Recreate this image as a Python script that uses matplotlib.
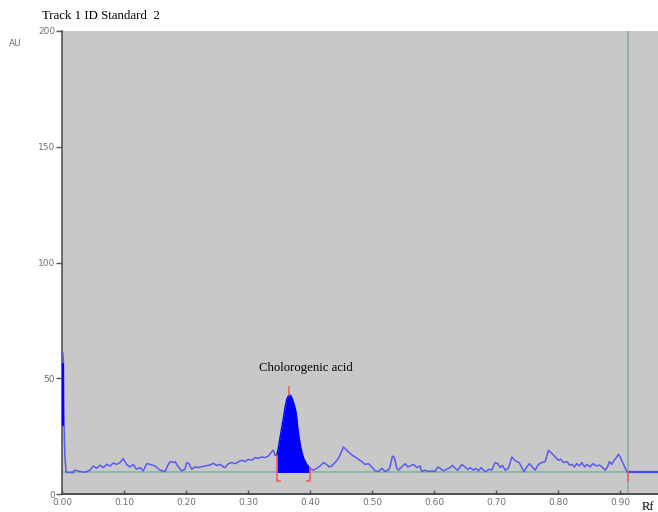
import matplotlib
matplotlib.use("Agg")
import matplotlib.pyplot as plt
import numpy as np

# ---------------- data ----------------
title_text = "Track 1 ID Standard  2"
peak_label = "Cholorogenic acid"
x_ticks = [0.0, 0.1, 0.2, 0.3, 0.4, 0.5, 0.6, 0.7, 0.8, 0.9]
x_tick_labels = ["0.00", "0.10", "0.20", "0.30", "0.40", "0.50", "0.60", "0.70", "0.80", "0.90"]
y_ticks = [0, 50, 100, 150, 200]
baseline_au = 9.3
end_rf = 0.912

# initial spike at the application position
spike_rf = [0.0012, 0.0022, 0.0030, 0.0034, 0.0040, 0.0048, 0.0068, 0.018]
spike_au = [61.0, 58.0, 36.0, 30.0, 22.0, 15.5, 9.3, 9.3]
spike_fill_rf = [0.0004, 0.0014]
spike_fill_low = [30.0, 30.0]
spike_fill_high = [56.0, 56.0]

# noisy track before the peak
pre_rf = [0.0183, 0.0210, 0.0290, 0.0370, 0.0452, 0.0505, 0.0559, 0.0613, 0.0667, 0.0720,
          0.0774, 0.0828, 0.0880, 0.0935, 0.0989, 0.1040, 0.1097, 0.1150, 0.1200, 0.1260,
          0.1310, 0.1366, 0.1420, 0.1500, 0.1580, 0.1661, 0.1715, 0.1742, 0.1796, 0.1823,
          0.1876, 0.1930, 0.1984, 0.2011, 0.2048, 0.2091, 0.2145, 0.2199, 0.2253, 0.2306,
          0.2387, 0.2441, 0.2495, 0.2548, 0.2602, 0.2629, 0.2683, 0.2737, 0.2790, 0.2844,
          0.2898, 0.2952, 0.3005, 0.3059, 0.3113, 0.3167, 0.3220, 0.3274, 0.3328, 0.3382,
          0.3409, 0.3435]
pre_au = [9.8, 10.3, 9.7, 9.4, 10.3, 12.1, 11.1, 12.4, 11.4, 12.8,
          12.1, 13.4, 12.8, 13.6, 15.3, 12.8, 11.7, 12.8, 10.7, 11.4,
          10.0, 13.1, 12.8, 12.1, 10.3, 9.7, 12.8, 14.0, 13.6, 14.0,
          11.7, 10.0, 10.7, 13.6, 13.1, 10.7, 11.7, 11.4, 11.8, 12.1,
          12.5, 13.3, 12.3, 12.8, 11.7, 11.4, 13.1, 13.6, 13.1, 13.9,
          14.6, 14.0, 15.0, 14.6, 15.7, 15.4, 16.0, 15.7, 16.4, 18.3,
          18.9, 16.9]

# chlorogenic acid peak (filled)
peak_rf = [0.3462, 0.3489, 0.3516, 0.3543, 0.3570, 0.3597, 0.3624, 0.3661, 0.3688, 0.3715,
           0.3742, 0.3769, 0.3785, 0.3801, 0.3823, 0.3849, 0.3892, 0.3946, 0.4000]
peak_au = [16.5, 20.1, 24.4, 28.7, 33.0, 37.4, 41.0, 42.9, 42.5, 41.0,
           38.8, 35.9, 33.0, 28.7, 24.4, 20.1, 15.7, 12.8, 11.1]
peak_top_rf = 0.3661
peak_start_rf = 0.3462
peak_end_rf = 0.4000

# noisy track after the peak
post_rf = [0.4054, 0.4108, 0.4161, 0.4215, 0.4269, 0.4306, 0.4349, 0.4403, 0.4457, 0.4511,
           0.4538, 0.4591, 0.4645, 0.4699, 0.4726, 0.4780, 0.4833, 0.4887, 0.4941, 0.4995,
           0.5048, 0.5102, 0.5156, 0.5210, 0.5263, 0.5290, 0.5328, 0.5360, 0.5398, 0.5425,
           0.5478, 0.5532, 0.5575, 0.5613, 0.5667, 0.5720, 0.5774, 0.5801, 0.5855, 0.5909,
           0.5962, 0.6016, 0.6059, 0.6097, 0.6151, 0.6204, 0.6258, 0.6296, 0.6339, 0.6382,
           0.6446, 0.6500, 0.6543, 0.6581, 0.6634, 0.6672, 0.6715, 0.6758, 0.6796, 0.6833,
           0.6887, 0.6930, 0.6984, 0.7027, 0.7065, 0.7102, 0.7145, 0.7199, 0.7253, 0.7285,
           0.7333, 0.7371, 0.7414, 0.7452, 0.7495, 0.7538, 0.7591, 0.7629, 0.7683, 0.7737,
           0.7790, 0.7844, 0.7898, 0.7952, 0.8005, 0.8043, 0.8086, 0.8140, 0.8183, 0.8220,
           0.8263, 0.8301, 0.8344, 0.8382, 0.8425, 0.8462, 0.8516, 0.8559, 0.8613, 0.8667,
           0.8720, 0.8758, 0.8796, 0.8828, 0.8866, 0.8903, 0.8946, 0.8973, 0.9011, 0.9054,
           0.9097, 0.9118]
post_au = [10.3, 11.1, 12.1, 13.6, 12.8, 11.7, 12.1, 13.6, 15.4, 18.6,
           20.3, 18.9, 17.5, 16.4, 16.0, 15.0, 14.0, 12.8, 13.1, 11.7,
           10.0, 9.7, 11.1, 9.7, 10.3, 11.7, 16.4, 15.7, 11.1, 10.3,
           11.7, 13.1, 11.7, 12.1, 12.8, 11.4, 12.1, 9.7, 10.3, 9.7,
           10.0, 9.7, 11.7, 11.1, 10.0, 10.7, 11.4, 12.4, 11.1, 10.3,
           12.7, 11.7, 10.5, 11.4, 10.3, 11.1, 10.0, 11.4, 10.3, 9.7,
           10.7, 10.3, 13.6, 13.1, 11.4, 12.4, 10.3, 11.1, 16.0, 15.0,
           14.0, 13.6, 11.4, 9.7, 11.7, 13.1, 11.4, 10.3, 12.8, 13.6,
           14.0, 18.9, 17.5, 16.0, 14.6, 15.0, 13.6, 14.0, 12.5, 12.8,
           11.7, 13.1, 12.1, 13.6, 11.7, 12.8, 11.7, 13.1, 12.1, 12.5,
           11.4, 10.3, 11.7, 14.0, 12.8, 14.6, 16.0, 17.2, 15.4, 12.8,
           10.3, 9.3]

# ---------------- figure ----------------
W, H, DPI = 658, 512, 100
fig = plt.figure(figsize=(W / DPI, H / DPI), dpi=DPI)
fig.patch.set_facecolor("white")
ax = fig.add_axes([62 / W, (512 - 494) / H, 1 - 62 / W, (494 - 31) / H])
ax.set_facecolor("#c8c8c8")
ax.set_xlim(0, 0.961)
ax.set_ylim(0, 200)

line_col = "#5a5af0"
fill_col = "#0000ff"
base_col = "#8fb1a9"
red_col = "#f06060"

# baseline and end-of-track line
ax.axhline(baseline_au, color=base_col, lw=1.3, zorder=2)
ax.axvline(end_rf, color=base_col, lw=1.3, zorder=2)

# spike
ax.plot(spike_rf, spike_au, color=line_col, lw=1.1, zorder=4, clip_on=False)
ax.fill_between(spike_fill_rf, spike_fill_low, spike_fill_high, color=fill_col, lw=1.5,
                edgecolor=fill_col, zorder=5)

# track
ax.plot([spike_rf[-1]] + pre_rf, [spike_au[-1]] + pre_au, color=line_col, lw=1.1, zorder=4)
ax.plot([pre_rf[-1], peak_rf[0]], [pre_au[-1], peak_au[0]], color=line_col, lw=1.1, zorder=4)
ax.fill_between(peak_rf, baseline_au, peak_au, color=fill_col, lw=0, zorder=4)
ax.plot(peak_rf, peak_au, color=fill_col, lw=1.0, zorder=4)
ax.plot([peak_rf[-1]] + post_rf, [peak_au[-1]] + post_au, color=line_col, lw=1.1, zorder=4)
ax.plot([end_rf, 0.961], [baseline_au, baseline_au], color="#4646ee", lw=1.6, zorder=4)

# red peak markers
top_val = max(peak_au)
ax.plot([peak_top_rf, peak_top_rf], [top_val, top_val + 3.2], color=red_col, lw=1.2, zorder=6)
ax.plot([peak_start_rf, peak_start_rf, peak_start_rf + 0.0055],
        [peak_au[0], 5.6, 5.6], color=red_col, lw=1.2, zorder=6)
ax.plot([peak_end_rf, peak_end_rf, peak_end_rf - 0.0055],
        [peak_au[-1] + 0.3, 5.6, 5.6], color=red_col, lw=1.2, zorder=6)
ax.plot([end_rf, end_rf], [baseline_au, 5.6], color=red_col, lw=1.2, zorder=6)

# spines / ticks
for s in ["top", "right"]:
    ax.spines[s].set_visible(False)
ax.spines["left"].set_color("#555555")
ax.spines["bottom"].set_color("#444444")
ax.spines["left"].set_linewidth(1.2)
ax.spines["bottom"].set_linewidth(1.3)
ax.set_xticks(x_ticks)
ax.set_xticklabels(x_tick_labels)
ax.set_yticks(y_ticks)
ax.set_yticklabels([str(v) for v in y_ticks])
ax.tick_params(axis="x", direction="in", length=3, width=1, colors="#555555",
               labelsize=6.5, labelcolor="#6f6f6f", pad=3)
ax.tick_params(axis="y", direction="out", length=4, width=1, colors="#555555",
               labelsize=6.5, labelcolor="#6f6f6f", pad=1)

# texts
serif = ["Liberation Serif", "DejaVu Serif"]
fig.text(42 / W, 1 - 16 / H, title_text, family=serif, fontsize=9.3, color="black",
         ha="left", va="center")
fig.text(15 / W, 1 - 43 / H, "AU", family="DejaVu Sans", fontsize=6.5, color="#6f6f6f",
         ha="center", va="center")
fig.text(648 / W, 1 - 507 / H, "Rf", family=serif, fontsize=9, color="black",
         ha="center", va="center")
ax.text(0.3935, 54.5, peak_label, family=serif, fontsize=9.2, color="black",
        ha="center", va="center")

fig.savefig("out.png", dpi=DPI, facecolor="white")
